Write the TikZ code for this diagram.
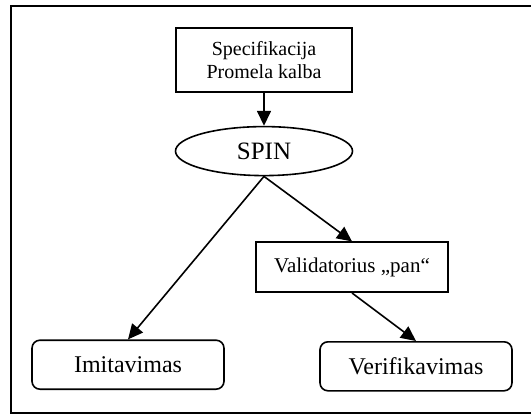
\documentclass[tikz,border=0pt]{standalone}
\usepackage{fontspec}
\setmainfont{Liberation Serif}
\usetikzlibrary{arrows.meta,positioning,shapes.geometric}
\tikzset{
  specbox/.style={
    rectangle, draw=black, line width=1.6pt,
    minimum width=176pt, minimum height=64pt, align=center,
    font=\fontsize{20}{23}\selectfont
  },
  toolbox/.style={
    rectangle, draw=black, line width=1.6pt,
    minimum width=#1, minimum height=50pt, align=center,
    font=\fontsize{21}{24}\selectfont
  },
  toolbox/.default=192pt,
  resultbox/.style={
    rectangle, rounded corners=8pt, draw=black, line width=1.6pt,
    minimum width=192pt, minimum height=49pt, align=center,
    font=\fontsize{24}{28}\selectfont
  },
  flowarrow/.style={-{Triangle[length=15pt,width=14pt]}, line width=1.6pt}
}

\begin{document}
\begin{tikzpicture}[x=1pt,y=1pt,
  spinnode/.style={ellipse, draw=black, line width=1.6pt, minimum width=177pt, minimum height=49pt, inner sep=0pt, font=\fontsize{25}{28}\selectfont}]
\useasboundingbox (0,0) rectangle (531,416);
\draw[line width=1.8pt] (11,3) rectangle (533,410);

\node[specbox] (spec) at (264,356) {Specifikacija\\Promela kalba};
\node[spinnode, below=33pt of spec] (spin) {SPIN};
\node[toolbox, below=65pt of spin, xshift=88pt] (valid) {Validatorius „pan“};
\node[resultbox, below=163pt of spin, xshift=-136pt] (imit) {Imitavimas};
\node[resultbox, below=48pt of valid, xshift=64pt] (verif) {Verifikavimas};

\draw[flowarrow] (spec) -- (spin);
\draw[flowarrow] (spin.south) -- (imit.north);
\draw[flowarrow] (spin.south) -- (valid.north);
\draw[flowarrow] (valid.south) -- (verif.north);
\end{tikzpicture}
\end{document}
